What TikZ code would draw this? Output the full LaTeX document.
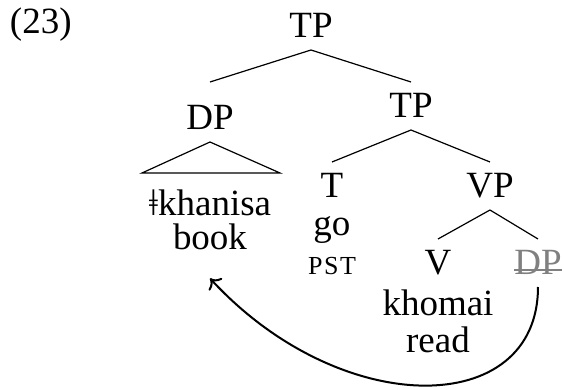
\documentclass[tikz,border=0pt]{standalone}
\usepackage{fontspec}
\setmainfont{Liberation Serif}
\usetikzlibrary{positioning, arrows.meta}
\tikzstyle{cat} = [inner sep=0pt, outer xsep=0pt, outer ysep=6pt, text height=12pt, text depth=0pt, anchor=base]
\tikzstyle{word} = [inner sep=0pt, outer sep=0pt, anchor=base]
\tikzstyle{branch} = [line width=0.6pt]
\tikzstyle{move} = [line width=1pt, -{To[length=4.5pt, width=9pt]}]

\begin{document}
\begin{tikzpicture}[x=0.5pt, y=-0.5pt, font=\fontsize{18.5}{22}\selectfont]
		\useasboundingbox (0,0) rectangle (564,390);
		\node (ex)[word, anchor=base west] at (10,34) {(23)};
		\node (TP)[cat] at (311,38) {TP};
		\node (DP)[cat] at (210,130) {DP};
		\node (TPb)[cat] at (411,118) {TP};
		\node (T)[cat] at (332,198) {T};
		\node (VP)[cat] at (490,198) {VP};
		\node (V)[cat] at (438,275) {V};
		\node (DPt)[cat, text=gray] at (538,275) {DP};
		\node (khanisa)[word] at (210,216) {ǂkhanisa};
		\node (book)[word, below=17pt of khanisa.base, anchor=base] {book};
		\node (go)[word, below=19pt of T.base, anchor=base] {go};
		\node (pst)[word, below=19.5pt of go.base, anchor=base, font=\fontsize{13}{15}\selectfont] {\addfontfeature{LetterSpace=6}PST};
		\node (khomai)[word, below=20.5pt of V.base, anchor=base] {khomai};
		\node (read)[word, below=18.5pt of khomai.base, anchor=base] {read};
		\draw [branch] (TP.south) -- ([yshift=6pt]DP.north);
		\draw [branch] (TP.south) -- (TPb.north);
		\draw [branch] (DP.south) -- ++(-68,31) -- ++(138,0) -- cycle;
		\draw [branch] (TPb.south) -- (T.north);
		\draw [branch] (TPb.south) -- (VP.north);
		\draw [branch] (VP.south) -- (V.north);
		\draw [branch] (VP.south) -- (DPt.north);
		\draw [gray, line width=0.6pt] ([yshift=2.5pt]DPt.base west) -- ([yshift=2.5pt]DPt.base east);
		\draw [move] (DPt.south) .. controls +(0,132) and +(131,142) .. ([yshift=-14pt]book.south);
	\end{tikzpicture}
\end{document}
